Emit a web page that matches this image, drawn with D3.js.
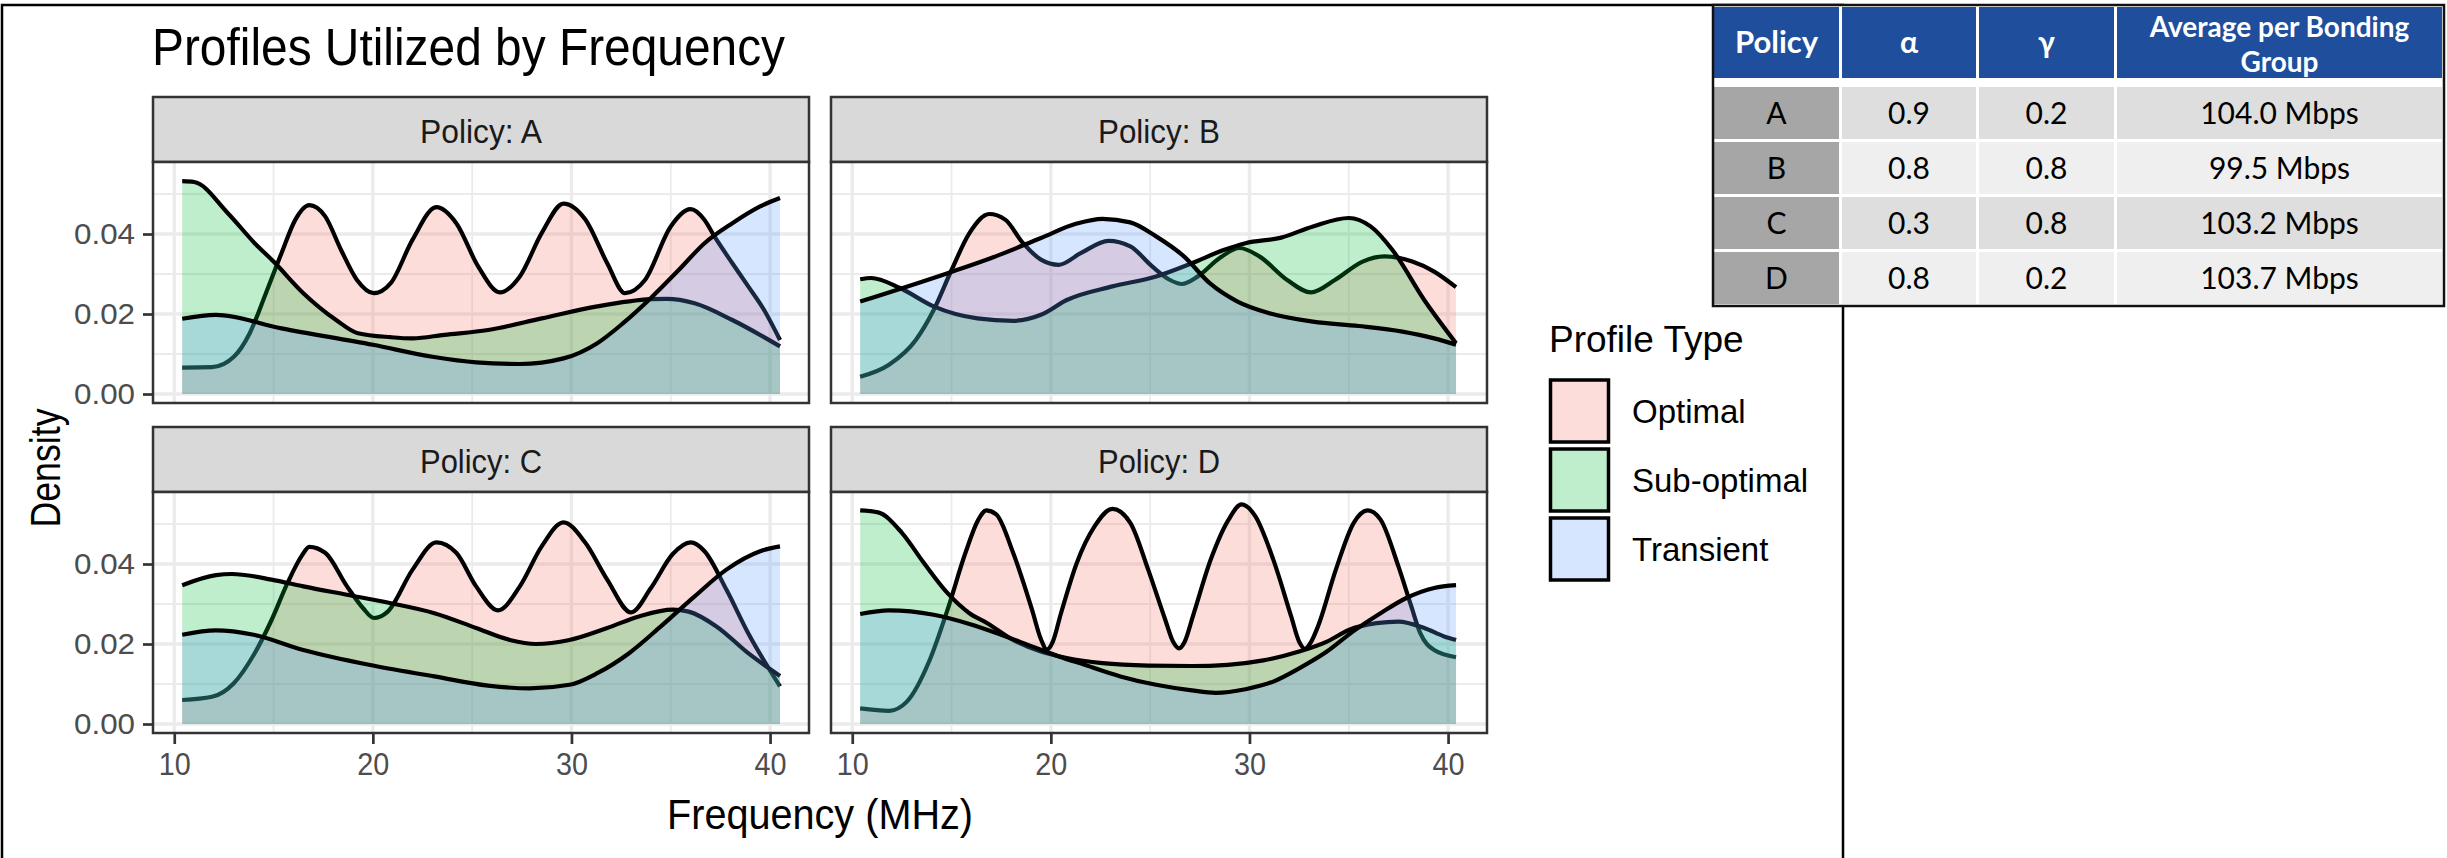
<!DOCTYPE html>
<html>
<head>
<meta charset="utf-8">
<script src="https://cdn.jsdelivr.net/npm/d3@7"></script>
<style>
  html, body { margin: 0; padding: 0; background: #ffffff; }
  svg { display: block; }
</style>
</head>
<body>
<svg id="chart" width="2447" height="858"></svg>
<script>
// ---------- data ----------
const policies = ["A", "B", "C", "D"];
const profileTypes = ["Optimal", "Sub-optimal", "Transient"];
const profileColors = ["#F8766D", "#00BA38", "#619CFF"];

const xTickValues = [10, 20, 30, 40];
const xMinorValues = [15, 25, 35];
const yTickValues = [0, 0.02, 0.04];
const yTickLabels = ["0.00", "0.02", "0.04"];
const yMinorValues = [0.01, 0.03, 0.05];

// density estimates: [frequency (MHz), density]
const optimalA = [[10.4,0.0066],[11.9,0.0067],[13.0,0.0093],[13.8,0.0152],[14.6,0.025],[15.4,0.0352],[16.1,0.0436],[16.8,0.0472],[17.6,0.0444],[18.4,0.036],[19.2,0.0285],[20.05,0.0252],[20.9,0.0277],[22.0,0.0386],[23.2,0.0467],[24.2,0.0427],[25.3,0.0319],[26.4,0.0254],[27.4,0.0294],[28.5,0.0402],[29.6,0.0476],[30.7,0.0436],[31.8,0.0327],[32.7,0.0252],[33.7,0.0285],[35.0,0.0419],[36.0,0.0462],[36.7,0.0435],[37.2,0.0394],[38.1,0.0327],[38.9,0.0269],[39.7,0.021],[40.5,0.0135]];
const subOptimalA = [[10.4,0.0532],[11.0,0.053],[12.7,0.0452],[14.05,0.0377],[15.0,0.0331],[16.5,0.0252],[18.15,0.0185],[19.25,0.0152],[20.9,0.0142],[22.0,0.0139],[23.6,0.0148],[25.8,0.016],[28.5,0.0189],[31.3,0.0219],[34.0,0.0237],[34.8,0.0238],[36.2,0.0227],[38.1,0.0185],[40.5,0.0119]];
const transientA = [[10.4,0.0188],[12.1,0.0198],[15.4,0.0164],[20.0,0.0123],[23.0,0.0093],[25.2,0.0079],[27.4,0.0075],[29.6,0.0089],[31.3,0.0127],[32.6,0.0177],[34.0,0.024],[35.4,0.031],[36.7,0.0377],[38.1,0.0427],[39.5,0.0469],[40.5,0.049]];

const optimalB = [[10.4,0.0043],[11.85,0.0073],[13.2,0.0135],[14.1,0.021],[15.0,0.031],[15.9,0.0402],[16.9,0.045],[17.7,0.0436],[18.6,0.0377],[19.5,0.0336],[20.4,0.0323],[21.5,0.0352],[22.9,0.0383],[24.0,0.0369],[25.1,0.0319],[26.0,0.0285],[26.6,0.0275],[27.4,0.0294],[28.5,0.034],[29.5,0.0365],[30.5,0.0344],[31.9,0.0285],[33.1,0.0254],[34.3,0.0285],[35.7,0.0331],[36.8,0.0344],[38.2,0.0331],[39.3,0.0306],[40.4,0.0267]];
const subOptimalB = [[10.4,0.0287],[10.95,0.029],[12.4,0.0265],[14.1,0.0219],[16.3,0.0189],[18.1,0.0183],[19.5,0.0198],[20.8,0.0235],[23.1,0.0269],[25.3,0.0294],[27.1,0.0327],[28.7,0.036],[29.8,0.0377],[31.6,0.0391],[33.2,0.0419],[35.0,0.044],[36.1,0.0419],[37.2,0.036],[38.8,0.0235],[40.4,0.0127]];
const transientB = [[10.4,0.0231],[14.8,0.0302],[17.0,0.034],[19.5,0.039],[21.3,0.0426],[22.6,0.0438],[24.0,0.0429],[25.3,0.0394],[26.7,0.0344],[28.0,0.0277],[29.4,0.0231],[31.0,0.0202],[33.2,0.0181],[35.5,0.017],[37.7,0.0156],[39.3,0.0139],[40.4,0.0123]];

const optimalC = [[10.4,0.006],[11.9,0.0068],[13.0,0.0102],[14.05,0.0177],[14.9,0.026],[15.7,0.0352],[16.4,0.0419],[16.8,0.0443],[17.6,0.0428],[18.7,0.0344],[19.5,0.029],[20.05,0.0265],[20.75,0.0281],[22.0,0.0386],[23.2,0.0454],[24.2,0.0428],[25.2,0.0344],[26.3,0.0284],[27.4,0.0344],[28.5,0.0444],[29.6,0.0504],[30.7,0.0453],[31.8,0.0361],[33.0,0.0279],[34.0,0.034],[35.1,0.0425],[36.0,0.0454],[36.7,0.0432],[37.8,0.0336],[38.9,0.0227],[40.5,0.0094]];
const subOptimalC = [[10.4,0.0347],[12.1,0.0372],[12.9,0.0375],[14.9,0.0361],[16.5,0.0344],[18.7,0.0323],[20.9,0.0302],[23.1,0.0277],[25.2,0.024],[26.9,0.021],[28.2,0.02],[29.9,0.021],[31.8,0.024],[33.4,0.0269],[35.1,0.0286],[35.9,0.0281],[37.3,0.0244],[38.9,0.0177],[40.5,0.012]];
const transientC = [[10.4,0.0223],[12.1,0.0234],[14.0,0.0223],[16.5,0.0185],[19.8,0.0148],[23.1,0.0119],[25.8,0.0096],[27.9,0.0089],[29.9,0.0098],[31.3,0.0127],[32.9,0.0177],[34.5,0.0244],[36.2,0.0319],[37.8,0.0386],[39.5,0.0432],[40.5,0.0444]];

const optimalD = [[10.4,0.0039],[11.85,0.0033],[12.75,0.0056],[13.9,0.016],[14.8,0.0286],[15.7,0.0428],[16.35,0.0511],[16.75,0.0534],[17.25,0.0524],[18.1,0.0428],[19.05,0.0286],[19.5,0.0212],[19.8,0.0186],[20.1,0.0206],[20.5,0.0275],[21.3,0.0402],[22.2,0.0494],[23.1,0.0538],[24.0,0.0503],[24.9,0.0386],[25.75,0.0262],[26.15,0.0206],[26.45,0.0189],[26.75,0.0207],[27.15,0.0269],[28.05,0.0411],[28.95,0.0511],[29.6,0.0549],[30.3,0.0519],[31.2,0.0411],[32.1,0.0269],[32.5,0.0206],[32.8,0.0188],[33.1,0.0205],[33.45,0.0244],[34.35,0.0386],[35.25,0.0503],[35.95,0.0534],[36.6,0.0511],[37.5,0.0394],[38.15,0.0294],[38.6,0.0227],[39.3,0.0185],[40.4,0.0167]];
const subOptimalD = [[10.4,0.0534],[11.3,0.0529],[12.5,0.0478],[13.6,0.0403],[14.8,0.0327],[15.9,0.0277],[16.8,0.0252],[18.1,0.021],[19.5,0.0181],[20.8,0.0165],[22.6,0.0152],[24.9,0.0146],[27.1,0.0145],[28.9,0.0148],[30.7,0.0159],[32.5,0.0181],[33.9,0.0206],[35.0,0.0235],[36.4,0.0252],[37.5,0.0256],[38.8,0.024],[39.8,0.0219],[40.4,0.021]];
const transientD = [[10.4,0.0275],[11.85,0.0284],[14.1,0.0273],[15.9,0.025],[17.5,0.0223],[19.05,0.0194],[20.4,0.0169],[21.7,0.0148],[23.5,0.0119],[25.3,0.0098],[27.1,0.0084],[28.3,0.0078],[29.8,0.0087],[31.2,0.0106],[32.5,0.0139],[33.9,0.0181],[35.2,0.0231],[36.6,0.0277],[37.9,0.0315],[39.3,0.034],[40.4,0.0347]];

const densities = {
  A: [optimalA, subOptimalA, transientA],
  B: [optimalB, subOptimalB, transientB],
  C: [optimalC, subOptimalC, transientC],
  D: [optimalD, subOptimalD, transientD]
};

// policy summary table
const tableHeader = ["Policy", "α", "γ", "Average per Bonding Group"];
const tableAlpha = [0.9, 0.8, 0.3, 0.8];
const tableGamma = [0.2, 0.8, 0.8, 0.2];
const tableThroughput = [104.0, 99.5, 103.2, 103.7];

// ---------- layout ----------
const FONT = "'Liberation Sans', Arial, Helvetica, sans-serif";
const TABLE_FONT = "Lato, 'Open Sans', sans-serif";
const svg = d3.select("#chart");

const panelW = 656, stripH = 65, plotH = 241;
const colX = [153, 831], rowY = [97, 427];

const x = d3.scaleLinear().domain([8.93, 41.96]).range([0, panelW]);
const y = d3.scaleLinear().domain([-0.00225, 0.058]).range([plotH, 0]);

// outer frame of the figure
svg.append("rect")
  .attr("x", 2).attr("y", 5).attr("width", 1841).attr("height", 870)
  .attr("fill", "none").attr("stroke", "#000").attr("stroke-width", 2.5);

// title
svg.append("text")
  .attr("x", 152).attr("y", 65)
  .attr("font-family", FONT).attr("font-size", 51)
  .attr("textLength", 633).attr("lengthAdjust", "spacingAndGlyphs")
  .attr("fill", "#000")
  .text("Profiles Utilized by Frequency");

const area = d3.area()
  .x(d => x(d[0])).y0(y(0)).y1(d => y(d[1]))
  .curve(d3.curveMonotoneX);
const line = d3.line()
  .x(d => x(d[0])).y(d => y(d[1]))
  .curve(d3.curveMonotoneX);

policies.forEach((policy, i) => {
  const col = i % 2, row = Math.floor(i / 2);
  const g = svg.append("g").attr("transform", `translate(${colX[col]},${rowY[row]})`);

  // facet strip
  g.append("rect")
    .attr("width", panelW).attr("height", stripH)
    .attr("fill", "#D9D9D9").attr("stroke", "#333333").attr("stroke-width", 2.5);
  g.append("text")
    .attr("x", panelW / 2).attr("y", 46)
    .attr("text-anchor", "middle")
    .attr("font-family", FONT).attr("font-size", 34)
    .attr("textLength", 122).attr("lengthAdjust", "spacingAndGlyphs")
    .attr("fill", "#1A1A1A")
    .text(`Policy: ${policy}`);

  const plot = g.append("g").attr("transform", `translate(0,${stripH})`);
  plot.append("rect").attr("width", panelW).attr("height", plotH).attr("fill", "#fff");

  // grid
  const grid = plot.append("g").attr("stroke", "#EBEBEB");
  grid.selectAll(".ymin").data(yMinorValues).join("line")
    .attr("x1", 0).attr("x2", panelW).attr("y1", d => y(d)).attr("y2", d => y(d))
    .attr("stroke-width", 1.8);
  grid.selectAll(".xmin").data(xMinorValues).join("line")
    .attr("y1", 0).attr("y2", plotH).attr("x1", d => x(d)).attr("x2", d => x(d))
    .attr("stroke-width", 1.8);
  grid.selectAll(".ymaj").data(yTickValues).join("line")
    .attr("x1", 0).attr("x2", panelW).attr("y1", d => y(d)).attr("y2", d => y(d))
    .attr("stroke-width", 3.4);
  grid.selectAll(".xmaj").data(xTickValues).join("line")
    .attr("y1", 0).attr("y2", plotH).attr("x1", d => x(d)).attr("x2", d => x(d))
    .attr("stroke-width", 3.4);

  // clip
  const clipId = `clip-${policy}`;
  plot.append("clipPath").attr("id", clipId)
    .append("rect").attr("width", panelW).attr("height", plotH);
  const marks = plot.append("g").attr("clip-path", `url(#${clipId})`);

  // densities: each group's fill then its outline, in group order
  densities[policy].forEach((series, k) => {
    marks.append("path").datum(series)
      .attr("d", area)
      .attr("fill", profileColors[k]).attr("fill-opacity", 0.25);
    marks.append("path").datum(series)
      .attr("d", line)
      .attr("fill", "none").attr("stroke", "#000").attr("stroke-width", 4.2)
      .attr("stroke-linejoin", "round").attr("stroke-linecap", "butt");
  });

  // panel border
  plot.append("rect")
    .attr("width", panelW).attr("height", plotH)
    .attr("fill", "none").attr("stroke", "#333333").attr("stroke-width", 2.5);

  // y axis on left column
  if (col === 0) {
    const ax = plot.append("g")
      .call(d3.axisLeft(y).tickValues(yTickValues).tickFormat((d, j) => yTickLabels[j]).tickSize(10).tickPadding(8));
    ax.select(".domain").remove();
    ax.selectAll(".tick line").attr("stroke", "#333333").attr("stroke-width", 2.7);
    ax.selectAll(".tick text")
      .attr("font-family", FONT).attr("font-size", 30).attr("fill", "#4D4D4D")
      .attr("textLength", 61).attr("lengthAdjust", "spacingAndGlyphs");
  }
  // x axis on bottom row
  if (row === 1) {
    const ax = plot.append("g").attr("transform", `translate(0,${plotH})`)
      .call(d3.axisBottom(x).tickValues(xTickValues).tickSize(11).tickPadding(9));
    ax.select(".domain").remove();
    ax.selectAll(".tick line").attr("stroke", "#333333").attr("stroke-width", 2.7);
    ax.selectAll(".tick text")
      .attr("font-family", FONT).attr("font-size", 31).attr("fill", "#4D4D4D")
      .attr("textLength", 32).attr("lengthAdjust", "spacingAndGlyphs");
  }
});

// axis titles
svg.append("text")
  .attr("x", (colX[0] + colX[1] + panelW) / 2).attr("y", 829)
  .attr("text-anchor", "middle")
  .attr("font-family", FONT).attr("font-size", 43)
  .attr("textLength", 306).attr("lengthAdjust", "spacingAndGlyphs")
  .attr("fill", "#000")
  .text("Frequency (MHz)");
svg.append("text")
  .attr("transform", "translate(60,468) rotate(-90)")
  .attr("text-anchor", "middle")
  .attr("font-family", FONT).attr("font-size", 43)
  .attr("textLength", 119).attr("lengthAdjust", "spacingAndGlyphs")
  .attr("fill", "#000")
  .text("Density");

// legend
const legend = svg.append("g").attr("transform", "translate(1549,0)");
legend.append("text")
  .attr("x", 0).attr("y", 352)
  .attr("font-family", FONT).attr("font-size", 37).attr("fill", "#000")
  .text("Profile Type");
profileTypes.forEach((name, k) => {
  const top = 380 + k * 69;
  legend.append("rect")
    .attr("x", 1.5).attr("y", top).attr("width", 58).attr("height", 62)
    .attr("fill", "#fff");
  legend.append("rect")
    .attr("x", 1.5).attr("y", top).attr("width", 58).attr("height", 62)
    .attr("fill", profileColors[k]).attr("fill-opacity", 0.25)
    .attr("stroke", "#000").attr("stroke-width", 3.5);
  legend.append("text")
    .attr("x", 83).attr("y", top + 31).attr("dy", "0.36em")
    .attr("font-family", FONT).attr("font-size", 33).attr("fill", "#000")
    .text(name);
});

// summary table
const table = svg.append("g");
const colLeft = [1714, 1842, 1979, 2117];
const colRight = [1839, 1976, 2114, 2442];
const headTop = 7, headBottom = 78;
const rowTop0 = 87, rowPitch = 55, rowH = 52;

table.append("rect")
  .attr("x", 1713).attr("y", 5).attr("width", 731).attr("height", 301)
  .attr("fill", "#fff");

colLeft.forEach((cx, c) => {
  table.append("rect")
    .attr("x", cx).attr("y", headTop).attr("width", colRight[c] - cx).attr("height", headBottom - headTop)
    .attr("fill", "#1F4E9C");
});
const headerText = table.append("g")
  .attr("font-family", TABLE_FONT).attr("font-weight", 700).attr("font-size", 28)
  .attr("fill", "#fff").attr("text-anchor", "middle");
[0, 1, 2].forEach(c => {
  headerText.append("text")
    .attr("x", (colLeft[c] + colRight[c]) / 2).attr("y", 53)
    .attr("font-size", c === 0 ? 31 : 30)
    .text(tableHeader[c]);
});
const lastHead = headerText.append("text")
  .attr("x", (colLeft[3] + colRight[3]) / 2).attr("y", 37);
lastHead.append("tspan").attr("x", (colLeft[3] + colRight[3]) / 2).text("Average per Bonding");
lastHead.append("tspan").attr("x", (colLeft[3] + colRight[3]) / 2).attr("dy", 35).text("Group");

policies.forEach((policy, r) => {
  const top = rowTop0 + r * rowPitch;
  const bodyFill = r % 2 === 0 ? "#DEDEDE" : "#EFEFEF";
  const cells = [policy, tableAlpha[r].toFixed(1), tableGamma[r].toFixed(1), `${tableThroughput[r].toFixed(1)} Mbps`];
  cells.forEach((val, c) => {
    table.append("rect")
      .attr("x", colLeft[c]).attr("y", top).attr("width", colRight[c] - colLeft[c]).attr("height", rowH)
      .attr("fill", c === 0 ? "#A6A6A6" : bodyFill);
    table.append("text")
      .attr("x", (colLeft[c] + colRight[c]) / 2).attr("y", top + rowH / 2 + 11)
      .attr("text-anchor", "middle")
      .attr("font-family", TABLE_FONT).attr("font-size", 30).attr("fill", "#000")
      .text(val);
  });
});

table.append("rect")
  .attr("x", 1713).attr("y", 5).attr("width", 731).attr("height", 301)
  .attr("fill", "none").attr("stroke", "#111").attr("stroke-width", 2.5);
</script>
</body>
</html>
